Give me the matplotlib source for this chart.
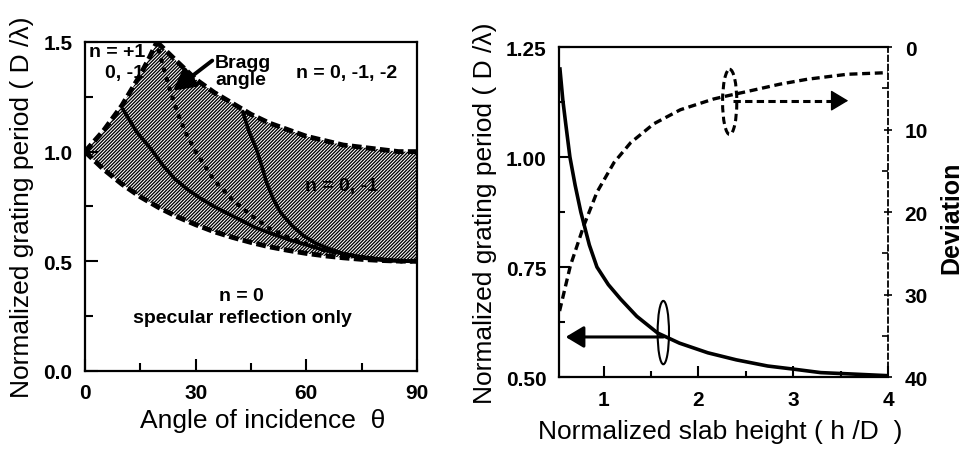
import numpy as np
import matplotlib.pyplot as plt
from matplotlib.patches import Ellipse
from matplotlib.ticker import MultipleLocator

plt.rcParams['font.family'] = ['Liberation Sans', 'DejaVu Sans']
plt.rcParams['hatch.linewidth'] = 0.95

# ---- left panel: diffraction order regions vs angle of incidence ----
# lower boundary (n = 0 only below it)
th_low = [0, 5, 10, 15, 20, 25, 30, 35, 40, 45, 50, 55, 60, 65, 70, 75, 80, 85, 90]
d_low = [1.0, 0.92, 0.852, 0.794, 0.745, 0.703, 0.667, 0.635, 0.609, 0.586,
         0.566, 0.55, 0.536, 0.525, 0.516, 0.509, 0.504, 0.501, 0.5]
# upper boundary, n = +1 side
th_up1 = [0, 5, 10, 15, 17.5, 19.5]
d_up1 = [1.0, 1.095, 1.21, 1.35, 1.43, 1.5]
# upper boundary, n = -2 side
th_up2 = [19.5, 25, 30, 35, 40, 45, 50, 55, 60, 65, 70, 75, 80, 85, 90]
d_up2 = [1.5, 1.41, 1.33, 1.27, 1.22, 1.17, 1.13, 1.1, 1.07, 1.05, 1.03,
         1.02, 1.01, 1.0, 1.0]
# Bragg angle curve
th_bragg = [20, 22.5, 25, 27.5, 30, 35, 40, 45, 50, 55, 60, 65, 70, 75, 80, 85, 90]
d_bragg = [1.46, 1.31, 1.18, 1.08, 1.0, 0.87, 0.78, 0.71, 0.65, 0.61, 0.58,
           0.55, 0.53, 0.52, 0.51, 0.5, 0.5]
# solid curves inside the shaded band
th_s1 = [10.4, 14, 18, 21, 24.4, 28, 31.6, 35, 38.9, 42, 46, 50, 55, 60, 65, 70, 75, 80, 85, 90]
d_s1 = [1.19, 1.09, 1.01, 0.94, 0.875, 0.825, 0.784, 0.75, 0.716, 0.69, 0.655,
        0.63, 0.6, 0.575, 0.55, 0.535, 0.52, 0.51, 0.503, 0.5]
th_s2 = [42.8, 44.5, 46.5, 48, 49.2, 51, 53, 56, 59.2, 62.5, 66.4, 70, 75.4, 80, 85, 90]
d_s2 = [1.18, 1.09, 1.01, 0.93, 0.86, 0.785, 0.723, 0.665, 0.617, 0.583,
        0.556, 0.535, 0.515, 0.506, 0.501, 0.5]

# ---- right panel: grating period and deviation vs slab height ----
h = [0.54, 0.57, 0.6, 0.645, 0.7, 0.76, 0.85, 0.93, 1.05, 1.18, 1.35, 1.57,
     1.8, 2.1, 2.4, 2.73, 3.0, 3.29, 3.6, 4.0]
period = [1.2, 1.13, 1.077, 1.0, 0.936, 0.875, 0.8, 0.75, 0.71, 0.677, 0.638,
          0.6, 0.577, 0.555, 0.539, 0.525, 0.518, 0.51, 0.507, 0.503]
h_dev = [0.536, 0.65, 0.79, 0.93, 1.11, 1.285, 1.53, 1.81, 2.16, 2.31,
         2.51, 2.86, 3.15, 3.57, 4.0]
deviation = [32.0, 26.5, 21.7, 17.6, 14.0, 11.6, 9.3, 7.6, 6.3, 5.9,
             5.4, 4.5, 3.9, 3.3, 3.1]

fig = plt.figure(figsize=(9.7, 4.52), dpi=100)

tickfont = dict(fontsize=15, fontweight='bold')
labelsize = 19
notefont = dict(fontsize=14, fontweight='bold')
dash = (0, (2.0, 0.9))

# left panel
ax = fig.add_axes([0.0876, 0.177, 0.3423, 0.728])

band_x = th_up1 + th_up2 + th_low[::-1]
band_y = d_up1 + d_up2 + d_low[::-1]
ax.fill(band_x, band_y, facecolor='none', edgecolor='black', linewidth=0,
        hatch='/' * 10, zorder=2)

ax.plot(th_low, d_low, color='black', lw=3.5, linestyle=dash, zorder=3)
ax.plot(th_up1, d_up1, color='black', lw=3.5, linestyle=dash, zorder=3)
ax.plot(th_up2, d_up2, color='black', lw=3.5, linestyle=dash, zorder=3)
ax.plot(th_bragg, d_bragg, color='black', lw=3.2, linestyle=(0, (0.2, 2.0)),
        dash_capstyle='round', zorder=3)
ax.plot(th_s1, d_s1, color='black', lw=2.6, zorder=3)
ax.plot(th_s2, d_s2, color='black', lw=2.6, zorder=3)

ax.text(1, 1.455, 'n = +1', ha='left', va='center', zorder=1, **notefont)
ax.text(5.5, 1.36, '0, -1', ha='left', va='center', zorder=1, **notefont)
ax.text(35.3, 1.367, 'Bragg\nangle', ha='left', va='center', linespacing=0.95,
        **notefont)
ax.annotate('', xy=(23.9, 1.278), xytext=(34.5, 1.415),
            arrowprops=dict(arrowstyle='-|>,head_length=0.65,head_width=0.35',
                            lw=2.8, color='black', mutation_scale=20,
                            shrinkA=0, shrinkB=0), zorder=4)
ax.text(70.8, 1.36, 'n = 0, -1, -2', ha='center', va='center', **notefont)
ax.text(69.5, 0.845, 'n = 0, -1', ha='center', va='center', zorder=4, **notefont)
ax.text(42.5, 0.343, 'n = 0', ha='center', va='center', **notefont)
ax.text(42.7, 0.245, 'specular reflection only', ha='center', va='center',
        **notefont)

ax.set_xlim(0, 90)
ax.set_ylim(0, 1.5)
ax.xaxis.set_minor_locator(MultipleLocator(15))
ax.yaxis.set_minor_locator(MultipleLocator(0.25))
ax.set_xticks([0, 30, 60, 90])
ax.set_xticklabels(['0', '30', '60', '90'], **tickfont)
ax.set_yticks([0, 0.5, 1.0, 1.5])
ax.set_yticklabels(['0.0', '0.5', '1.0', '1.5'], **tickfont)
ax.tick_params(which='major', direction='in', length=9, width=1.5, pad=9)
ax.tick_params(which='minor', direction='in', length=5.5, width=1.5)
for s in ax.spines.values():
    s.set_linewidth(1.6)
ax.set_xlabel('Angle of incidence  θ', fontsize=labelsize, va='center')
ax.xaxis.set_label_coords(0.536, -0.149)
ax.set_ylabel('Normalized grating period ( D /λ)', fontsize=labelsize, va='center')
ax.yaxis.set_label_coords(-0.19, 0.5)

# right panel
ax1 = fig.add_axes([0.5763, 0.1637, 0.3392, 0.730])
ax2 = ax1.twinx()

ax1.plot(h, period, color='black', lw=2.6)
ax2.plot(h_dev, deviation, color='black', lw=2.4, linestyle=(0, (2.4, 1.4)))

ax1.add_patch(Ellipse((1.63, 0.601), 0.12, 0.144, fill=False, lw=1.5,
                      edgecolor='black'))
ax1.annotate('', xy=(0.6, 0.591), xytext=(1.63, 0.591),
             arrowprops=dict(arrowstyle='-|>,head_length=0.55,head_width=0.33',
                             lw=2.2, color='black', mutation_scale=20,
                             shrinkA=0, shrinkB=0))
ax2.add_patch(Ellipse((2.33, 6.65), 0.15, 7.9, fill=False, lw=2.2,
                      linestyle=(0, (2.4, 1.4)), edgecolor='black'))
ax2.plot([2.37, 3.42], [6.5, 6.5], color='black', lw=2.2, linestyle=(0, (2.4, 1.4)))
ax2.annotate('', xy=(3.58, 6.5), xytext=(3.40, 6.5),
             arrowprops=dict(arrowstyle='-|>,head_length=0.55,head_width=0.33',
                             lw=1, color='black', mutation_scale=20,
                             shrinkA=0, shrinkB=0))

ax1.set_xlim(0.53, 4.0)
ax1.set_ylim(0.5, 1.25)
ax2.set_ylim(40, 0)
ax1.set_xticks([1, 2, 3, 4])
ax1.set_xticklabels(['1', '2', '3', '4'], **tickfont)
ax1.xaxis.set_minor_locator(MultipleLocator(0.5))
ax1.set_yticks([0.5, 0.75, 1.0, 1.25])
ax1.set_yticklabels(['0.50', '0.75', '1.00', '1.25'], **tickfont)
ax1.yaxis.set_minor_locator(MultipleLocator(0.125))
ax2.set_yticks([0, 10, 20, 30, 40])
ax2.set_yticklabels(['0', '10', '20', '30', '40'], **tickfont)
ax2.yaxis.set_minor_locator(MultipleLocator(5))

ax1.tick_params(which='major', direction='in', length=8, width=1.5, pad=9)
ax1.tick_params(which='minor', direction='in', length=4.5, width=1.5)
ax2.tick_params(which='major', direction='inout', length=6, width=1.2, pad=9)
ax2.tick_params(which='minor', direction='in', length=4, width=1.2)

for s in ax1.spines.values():
    s.set_linewidth(1.6)
ax1.spines['right'].set_visible(False)
ax2.spines['left'].set_visible(False)
ax2.spines['top'].set_visible(False)
ax2.spines['bottom'].set_visible(False)
ax2.spines['right'].set_linewidth(1.3)
ax2.spines['right'].set_linestyle((0, (3, 2)))

ax1.set_xlabel('Normalized slab height ( h /D  )', fontsize=labelsize, va='center')
ax1.xaxis.set_label_coords(0.49, -0.164)
ax1.set_ylabel('Normalized grating period ( D /λ)', fontsize=labelsize, va='center')
ax1.yaxis.set_label_coords(-0.225, 0.5)
ax2.set_ylabel('Deviation', fontsize=18, fontweight='bold', va='center')
ax2.yaxis.set_label_coords(1.191, 0.485)

fig.savefig('out.png', dpi=100)
